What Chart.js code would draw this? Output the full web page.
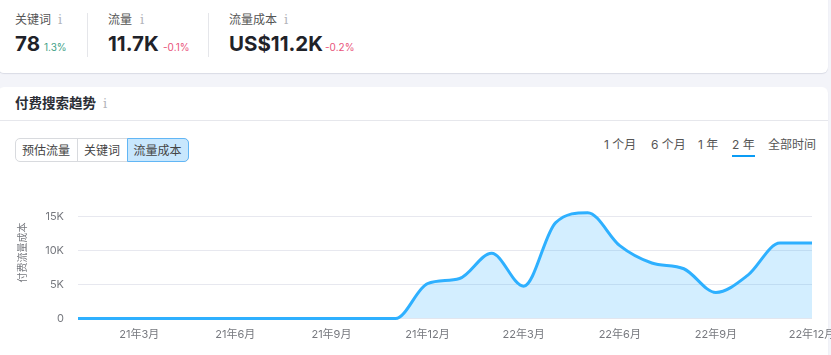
<!DOCTYPE html>
<html>
<head>
<meta charset="utf-8">
<script src="https://cdn.jsdelivr.net/npm/chart.js@4"></script>
<style>
  html, body { margin: 0; padding: 0; width: 831px; height: 355px; overflow: hidden; background: #f3f4f9; }
  body { position: relative; font-family: Inter, "Noto Sans CJK SC", sans-serif; color: #333; }
  .t { position: absolute; white-space: nowrap; line-height: 1; }
  .card { position: absolute; left: -2px; width: 830px; background: #fff; border-radius: 6px; box-shadow: 0 1px 1px rgba(30,40,90,.12); }
  .label { font-size: 12px; color: #555; }
  .big { font-size: 20.5px; font-weight: 700; color: #1f2229; }
  .delta { font-size: 10px; }
  .up { color: #3f9f86; }
  .down { color: #e9537a; }
  .info { font-family: "DejaVu Serif", serif; font-size: 13px; color: #b3b5bb; }
  .sep { position: absolute; width: 1px; top: 13px; height: 44px; background: #e5e6ea; }
  .btns { position: absolute; left: 14.5px; top: 138px; height: 22px; width: 172px; border: 1px solid #d8dade; border-radius: 5px; }
  .btn { position: absolute; top: 0; height: 22px; line-height: 24px; text-align: center; font-size: 12px; color: #444; }
  .btn.on { top: -1px; height: 22px; border: 1px solid #62b6f5; border-radius: 0 5px 5px 0; background: #c8e7fd; }
  .tab { font-size: 12px; color: #555; }
  #wrap { position: absolute; left: 0; top: 180px; width: 831px; height: 175px; }
</style>
</head>
<body>
<div class="card" style="top:-12px;height:85px"></div>
<div class="card" style="top:87px;height:290px"></div>
<div style="position:absolute;left:0;width:828px;top:120px;height:1px;background:#e6e7ec"></div>

<div class="t label" style="left:15px;top:14px">关键词</div><div class="t info" style="left:58px;top:13px">i</div>
<div class="t big" style="left:15px;top:34px">78</div><div class="t delta up" style="left:44px;top:42px">1.3%</div>
<div class="sep" style="left:87px"></div>
<div class="t label" style="left:108px;top:14px">流量</div><div class="t info" style="left:140px;top:13px">i</div>
<div class="t big" style="left:108px;top:34px">11.7K</div><div class="t delta down" style="left:163px;top:42px">-0.1%</div>
<div class="sep" style="left:208px"></div>
<div class="t label" style="left:229px;top:14px">流量成本</div><div class="t info" style="left:284px;top:13px">i</div>
<div class="t big" style="left:229px;top:34px">US$11.2K</div><div class="t delta down" style="left:325px;top:42px">-0.2%</div>

<div class="t" style="left:15px;top:97px;font-size:13.5px;font-weight:700;color:#2b2e35">付费搜索趋势</div>
<div class="t info" style="left:103px;top:97px">i</div>

<div class="btns">
  <div class="btn" style="left:0;width:61px;border-right:1px solid #d8dade">预估流量</div>
  <div class="btn" style="left:62px;width:49px">关键词</div>
  <div class="btn on" style="left:111px;width:60px">流量成本</div>
</div>

<div class="t tab" style="left:604px;top:139px">1 个月</div>
<div class="t tab" style="left:651px;top:139px">6 个月</div>
<div class="t tab" style="left:698px;top:139px">1 年</div>
<div class="t tab" style="left:732px;top:139px">2 年</div>
<div style="position:absolute;left:732px;top:155px;width:23px;height:2px;background:#0a9cf5"></div>
<div class="t tab" style="left:768px;top:139px">全部时间</div>

<div id="wrap"><canvas id="trend"></canvas></div>

<script>
const months = ['21年1月','21年2月','21年3月','21年4月','21年5月','21年6月','21年7月','21年8月','21年9月','21年10月','21年11月','21年12月',
  '22年1月','22年2月','22年3月','22年4月','22年5月','22年6月','22年7月','22年8月','22年9月','22年10月','22年11月','22年12月'];
const trafficCost = [0,0,0,0,0,0,0,0,0,0,0,5160,5900,9640,4770,14170,15640,10760,8200,7350,3850,6400,11150,11150];
const xTickMonths = [2,5,8,11,14,17,20,23];
const yTicks = [0,5000,10000,15000];
const yLabels = ['0','5K','10K','15K'];

const tickFont = { family: 'Inter, "Noto Sans CJK SC", sans-serif', size: 11 };

new Chart(document.getElementById('trend'), {
  type: 'line',
  data: {
    datasets: [{
      label: '付费流量成本',
      data: trafficCost.map((v, i) => ({ x: i, y: v })),
      borderColor: '#2eb0ff',
      borderWidth: 3,
      backgroundColor: 'rgba(46,176,255,0.21)',
      fill: 'origin',
      cubicInterpolationMode: 'monotone',
      pointRadius: 0,
      clip: { left: 0, right: 0, top: false, bottom: false }
    }]
  },
  options: {
    responsive: true,
    maintainAspectRatio: false,
    animation: false,
    layout: { padding: { top: 6.5, right: 19 } },
    plugins: { legend: { display: false }, tooltip: { enabled: false } },
    scales: {
      x: {
        type: 'linear',
        min: 0.09,
        max: 23,
        grid: { display: false },
        border: { display: false },
        afterBuildTicks: scale => { scale.ticks = xTickMonths.map(m => ({ value: m })); },
        afterFit: scale => { scale.height = 36.5; scale.paddingRight = 0; scale.paddingLeft = 0; },
        ticks: {
          autoSkip: false,
          maxRotation: 0,
          padding: 2,
          color: '#77797f',
          font: tickFont,
          callback: v => months[v]
        }
      },
      y: {
        min: 0,
        max: 19500,
        grid: { color: '#e7e8ef', drawTicks: false },
        border: { display: false },
        afterBuildTicks: scale => { scale.ticks = yTicks.map(v => ({ value: v })); },
        afterFit: scale => { scale.width = 78; scale.paddingTop = 0; scale.paddingBottom = 0; },
        title: {
          display: true,
          text: '付费流量成本',
          color: '#77797f',
          font: { ...tickFont, size: 10 },
          padding: { top: 17, bottom: 0 }
        },
        ticks: {
          padding: 14,
          color: '#77797f',
          font: tickFont,
          callback: v => yLabels[yTicks.indexOf(v)]
        }
      }
    }
  }
});
</script>
</body>
</html>
